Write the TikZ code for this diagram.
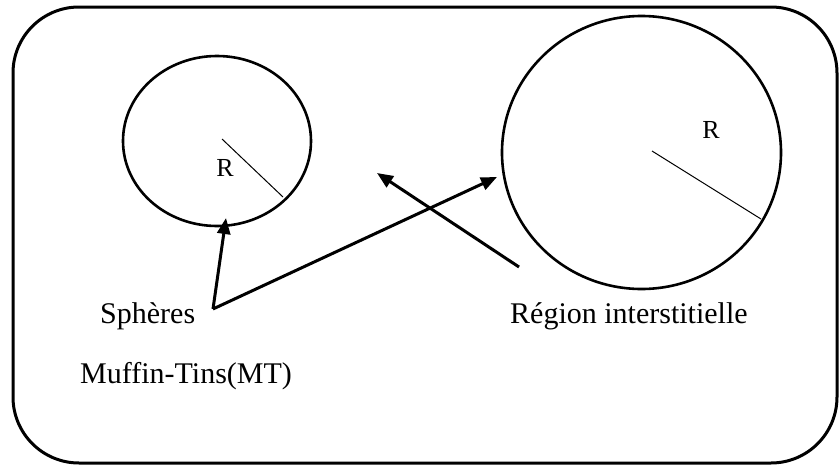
\documentclass[tikz,border=0pt]{standalone}
\usepackage{fontspec}
\setmainfont{Liberation Serif}
\usetikzlibrary{arrows.meta,shapes.geometric}
\begin{document}
\begin{tikzpicture}[x=1pt,y=-1pt,
  frame/.style={draw,line width=3pt,rounded corners=66pt},
  sphere/.style={draw,line width=2.6pt},
  radius/.style={draw,line width=1pt},
  pointer/.style={draw,line width=3pt,-{Triangle[length=16pt,width=13pt]}},
  lbl/.style={font=\fontsize{30}{36}\selectfont,inner sep=0pt,anchor=base west},
  rlbl/.style={font=\fontsize{26}{30}\selectfont,inner sep=0pt}]
\useasboundingbox (0,0) rectangle (839,466);
\draw[frame] (13,7) rectangle (837,463);
% spheres
\node[sphere,ellipse,minimum width=188pt,minimum height=170pt,inner sep=0pt] (s1) at (217,141) {};
\node[sphere,ellipse,minimum width=279pt,minimum height=273pt,inner sep=0pt] (s2) at (641.5,152.5) {};
% radii
\coordinate (c1) at (222,139);
\coordinate (e1) at (283,197);
\draw[radius] (c1) -- (e1);
\coordinate (c2) at (652,151);
\coordinate (e2) at (761,219);
\draw[radius] (c2) -- (e2);
\node[rlbl] (r1) at (225,168) {R};
\node[rlbl] (r2) at (711,130) {R};
% labels
\node[lbl] (sph) at (100,323) {Sphères};
\node[lbl] (mt) at (80,383) {Muffin-Tins(MT)};
\node[lbl] (reg) at (510,323) {Région interstitielle};
% arrows
\coordinate (o) at (213,309);
\coordinate (t1) at (226,218);
\coordinate (t2) at (497,177);
\coordinate (o3) at (519,267);
\coordinate (t3) at (377,173);
\draw[pointer] (o) -- (t1);
\draw[pointer] (o) -- (t2);
\draw[pointer] (o3) -- (t3);
\end{tikzpicture}
\end{document}
